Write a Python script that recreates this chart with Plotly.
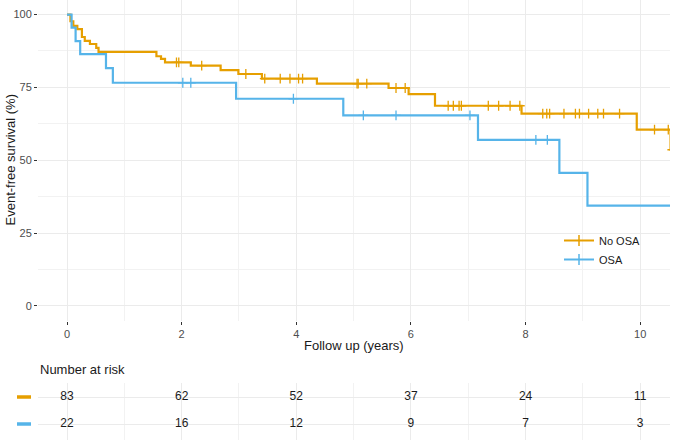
import numpy as np
import plotly.graph_objects as go

# ---- data ----
group_names = ["No OSA", "OSA"]
group_colors = ["#E69F00", "#56B4E9"]

noosa_time = [0, 0.06, 0.11, 0.18, 0.26, 0.31, 0.40, 0.51, 0.55, 1.56, 1.64, 1.71,
              2.16, 2.68, 2.99, 3.40, 4.36, 5.61, 5.96, 6.42, 7.93, 9.94, 10.53, 11.0]
noosa_surv = [100, 97.7, 96.1, 95.0, 92.3, 91.0, 89.9, 88.6, 87.2, 85.7, 84.8, 83.6,
              82.5, 80.9, 79.6, 78.0, 76.3, 74.8, 72.7, 68.7, 66.0, 60.5, 53.6, 53.6]
noosa_censor = [1.91, 1.95, 2.35, 3.12, 3.45, 3.72, 3.89, 4.04, 4.11, 5.06, 5.08, 5.23,
                5.74, 5.90, 6.65, 6.74, 6.84, 6.88, 7.35, 7.53, 7.73, 7.90, 8.30, 8.37,
                8.42, 8.67, 8.87, 8.94, 9.10, 9.26, 9.36, 9.64, 10.25, 10.49, 10.56]

osa_time = [0, 0.08, 0.15, 0.23, 0.68, 0.80, 2.95, 4.82, 7.17, 8.59, 9.08, 11.0]
osa_surv = [100, 95.5, 90.9, 86.4, 81.6, 76.6, 71.1, 65.4, 57.0, 45.7, 34.4, 34.4]
osa_censor = [2.02, 2.16, 3.95, 5.17, 5.74, 7.03, 8.18, 8.38]

risk_times = [0, 2, 4, 6, 8, 10]
noosa_risk = [83, 62, 52, 37, 24, 11]
osa_risk = [22, 16, 12, 9, 7, 3]

x_ticks = [0, 2, 4, 6, 8, 10]
y_ticks = [0, 25, 50, 75, 100]

FONT = "Liberation Sans, Arial, Helvetica, sans-serif"


def step_value(times, surv, t):
    idx = np.searchsorted(np.array(times), t, side="right") - 1
    return float(np.array(surv)[idx])


fig = go.Figure()

series = [
    (noosa_time, noosa_surv, noosa_censor, noosa_risk),
    (osa_time, osa_surv, osa_censor, osa_risk),
]

# legend entries (line with censor cross)
for name, col in zip(group_names, group_colors):
    fig.add_trace(go.Scatter(
        x=[None], y=[None], mode="lines+markers", name=name,
        line=dict(color=col, width=2),
        marker=dict(symbol="line-ns", size=8, line=dict(color=col, width=1.5)),
        xaxis="x", yaxis="y", legendgroup=name,
    ))

for (times, surv, cens, risk), name, col, row in zip(series, group_names, group_colors, [2, 1]):
    fig.add_trace(go.Scatter(
        x=times, y=surv, mode="lines", line=dict(color=col, width=2.2, shape="hv"),
        showlegend=False, legendgroup=name, xaxis="x", yaxis="y", hoverinfo="skip",
    ))
    cy = [step_value(times, surv, t) for t in cens]
    fig.add_trace(go.Scatter(
        x=cens, y=cy, mode="markers",
        marker=dict(symbol="cross-thin", size=7, line=dict(color=col, width=1.3)),
        showlegend=False, legendgroup=name, xaxis="x", yaxis="y", cliponaxis=True,
    ))
    fig.add_trace(go.Scatter(
        x=risk_times, y=[row] * len(risk_times), mode="text",
        text=[str(v) for v in risk], textposition="middle center",
        textfont=dict(size=12, color="#1a1a1a", family=FONT),
        showlegend=False, xaxis="x2", yaxis="y2", cliponaxis=False, hoverinfo="skip",
    ))

W, H = 676, 440
ML, MR = 38, 6
PW = W - ML - MR


def px_x(p):
    return (p - ML) / PW


def px_y(p):
    return 1 - p / H


grid = "#ebebeb"
minor_grid = "#f2f2f2"
xr = [-0.506, 10.52]

fig.update_layout(
    width=W, height=H,
    margin=dict(l=ML, r=MR, t=0, b=0, autoexpand=False),
    paper_bgcolor="white", plot_bgcolor="white",
    font=dict(family=FONT, color="#1a1a1a"),
    xaxis=dict(
        domain=[0, 1], range=xr, anchor="y", tickvals=x_ticks,
        ticks="outside", ticklen=3, tickwidth=1, tickcolor="#333333",
        tickfont=dict(size=11, color="#4d4d4d"), automargin=False,
        showgrid=True, gridcolor=grid, gridwidth=1, zeroline=False, showline=False,
        minor=dict(dtick=1, tick0=0, showgrid=True, gridcolor=minor_grid, gridwidth=1, ticks=""),
    ),
    yaxis=dict(
        domain=[1 - 320.5 / H, 1], range=[-5, 105], anchor="x", tickvals=y_ticks,
        ticks="outside", ticklen=3, tickwidth=1, tickcolor="#333333",
        tickfont=dict(size=11, color="#4d4d4d"), automargin=False,
        showgrid=True, gridcolor=grid, gridwidth=1, zeroline=False, showline=False,
        minor=dict(dtick=12.5, tick0=0, showgrid=True, gridcolor=minor_grid, gridwidth=1, ticks=""),
    ),
    xaxis2=dict(
        domain=[0, 1], range=xr, anchor="y2", tickvals=x_ticks, showticklabels=False,
        ticks="", showgrid=True, gridcolor=grid, gridwidth=1, zeroline=False, showline=False,
        automargin=False,
        minor=dict(dtick=1, tick0=0, showgrid=True, gridcolor=minor_grid, gridwidth=1, ticks=""),
    ),
    yaxis2=dict(
        domain=[0, 1 - 383 / H], range=[1 - 16 / 27, 2 + 14 / 27], anchor="x2",
        tickvals=[1, 2], showticklabels=False, ticks="", automargin=False,
        showgrid=True, gridcolor=grid, gridwidth=1, zeroline=False, showline=False,
    ),
    legend=dict(
        x=px_x(559), y=px_y(250), xanchor="left", yanchor="middle",
        bgcolor="rgba(0,0,0,0)", font=dict(size=11, color="#1a1a1a", family=FONT),
        itemwidth=30, tracegroupgap=0,
    ),
    showlegend=True,
)

annotations = [
    dict(text="Event-free survival (%)", x=px_x(10), y=px_y(160.5), xref="paper", yref="paper",
         textangle=-90, showarrow=False, xanchor="center", yanchor="middle",
         font=dict(size=13, color="#1a1a1a")),
    dict(text="Follow up (years)", x=0.5, y=px_y(345), xref="paper", yref="paper",
         showarrow=False, xanchor="center", yanchor="middle",
         font=dict(size=13, color="#1a1a1a")),
    dict(text="Number at risk", x=0, y=px_y(369), xref="paper", yref="paper",
         showarrow=False, xanchor="left", yanchor="middle",
         font=dict(size=13, color="#1a1a1a")),
]
fig.update_layout(annotations=annotations)

shapes = []
for col, ypix in zip(group_colors, [397, 424]):
    shapes.append(dict(type="line", xref="paper", yref="paper",
                       x0=px_x(17), x1=px_x(31), y0=px_y(ypix), y1=px_y(ypix),
                       line=dict(color=col, width=3.5)))
fig.update_layout(shapes=shapes)

fig.write_html(
    "out.html",
    config={"displayModeBar": False},
    post_script="document.body.style.margin='0';document.body.style.overflow='hidden';",
)
